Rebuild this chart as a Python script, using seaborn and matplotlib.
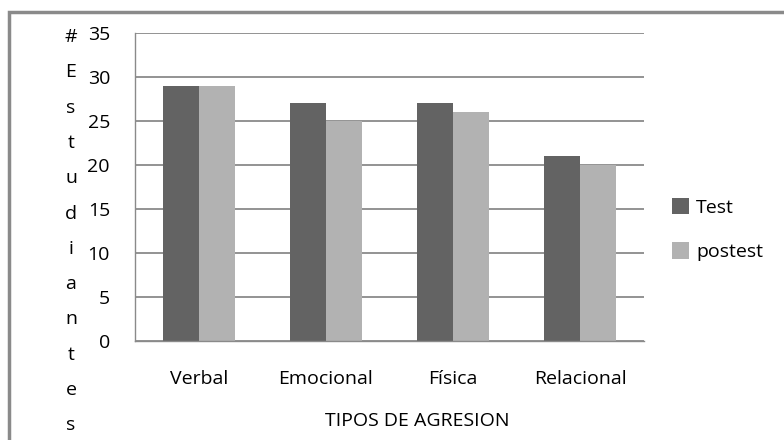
import pandas as pd
import seaborn as sns
import matplotlib.pyplot as plt
from matplotlib.patches import Rectangle

categorias = ['Verbal', 'Emocional', 'Física', 'Relacional']
test = [29, 27, 27, 21]
postest = [29, 25, 26, 20]
series = ['Test', 'postest']
yticks = [0, 5, 10, 15, 20, 25, 30, 35]

data = pd.DataFrame({
    'tipo': categorias * 2,
    'valor': test + postest,
    'serie': ['Test'] * 4 + ['postest'] * 4,
})

sns.set_style('white')
plt.rcParams['font.family'] = ['Open Sans', 'DejaVu Sans']
plt.rcParams['text.color'] = 'black'
plt.rcParams['xtick.color'] = 'black'
plt.rcParams['ytick.color'] = 'black'

fs = 14

fig = plt.figure(figsize=(7.84, 4.4), dpi=100)
ax = fig.add_axes([135 / 784, 1 - 341 / 440, 509 / 784, 308 / 440])

sns.barplot(data=data, x='tipo', y='valor', hue='serie', hue_order=series,
            palette=['#636363', '#b2b2b2'], width=0.566, gap=0,
            saturation=1, ax=ax, edgecolor='none')

grid_c = '#8a8a8a'
ax.set_ylim(0, 35)
ax.set_yticks(yticks)
ax.set_yticklabels([str(v) for v in yticks], fontsize=fs)
ax.yaxis.grid(True, color=grid_c, linewidth=1.3)
ax.set_axisbelow(True)
ax.set_xlim(-0.5, 3.5)
ax.set_xticks([-0.5, 0.5, 1.5, 2.5, 3.5], minor=True)
ax.set_xticks(range(4))
ax.set_xticklabels(categorias, fontsize=fs)
ax.tick_params(axis='x', which='major', length=0, pad=21)
ax.tick_params(axis='x', which='minor', length=7, color=grid_c, width=1)
ax.tick_params(axis='y', length=7, color=grid_c, width=1.3, pad=11,
               labelcolor='black')
for s in ['top', 'right']:
    ax.spines[s].set_visible(False)
for s in ['left', 'bottom']:
    ax.spines[s].set_color(grid_c)
    ax.spines[s].set_linewidth(1)
ax.set_xlabel('')
ax.set_ylabel('')

leg = ax.legend(loc='upper left', bbox_to_anchor=(1.02, 0.52), frameon=False,
                fontsize=fs, handlelength=0.9, handleheight=0.9,
                handletextpad=0.35, labelspacing=1.3)

fig.text(417 / 784, 1 - 421 / 440, 'TIPOS DE AGRESION', ha='center', va='center', fontsize=fs)

letras = list('#Estudiantes')
for i, ch in enumerate(letras):
    fig.text(71 / 784, 1 - (37 + i * 35.3) / 440, ch, ha='center', va='center', fontsize=fs)

fig.patches.append(Rectangle((9 / 784, -0.1), 1.0, 1 - 12 / 440 + 0.1,
                             transform=fig.transFigure, fill=False,
                             edgecolor='#8a8a8a', linewidth=2.5))

fig.savefig('out.png', dpi=100)
